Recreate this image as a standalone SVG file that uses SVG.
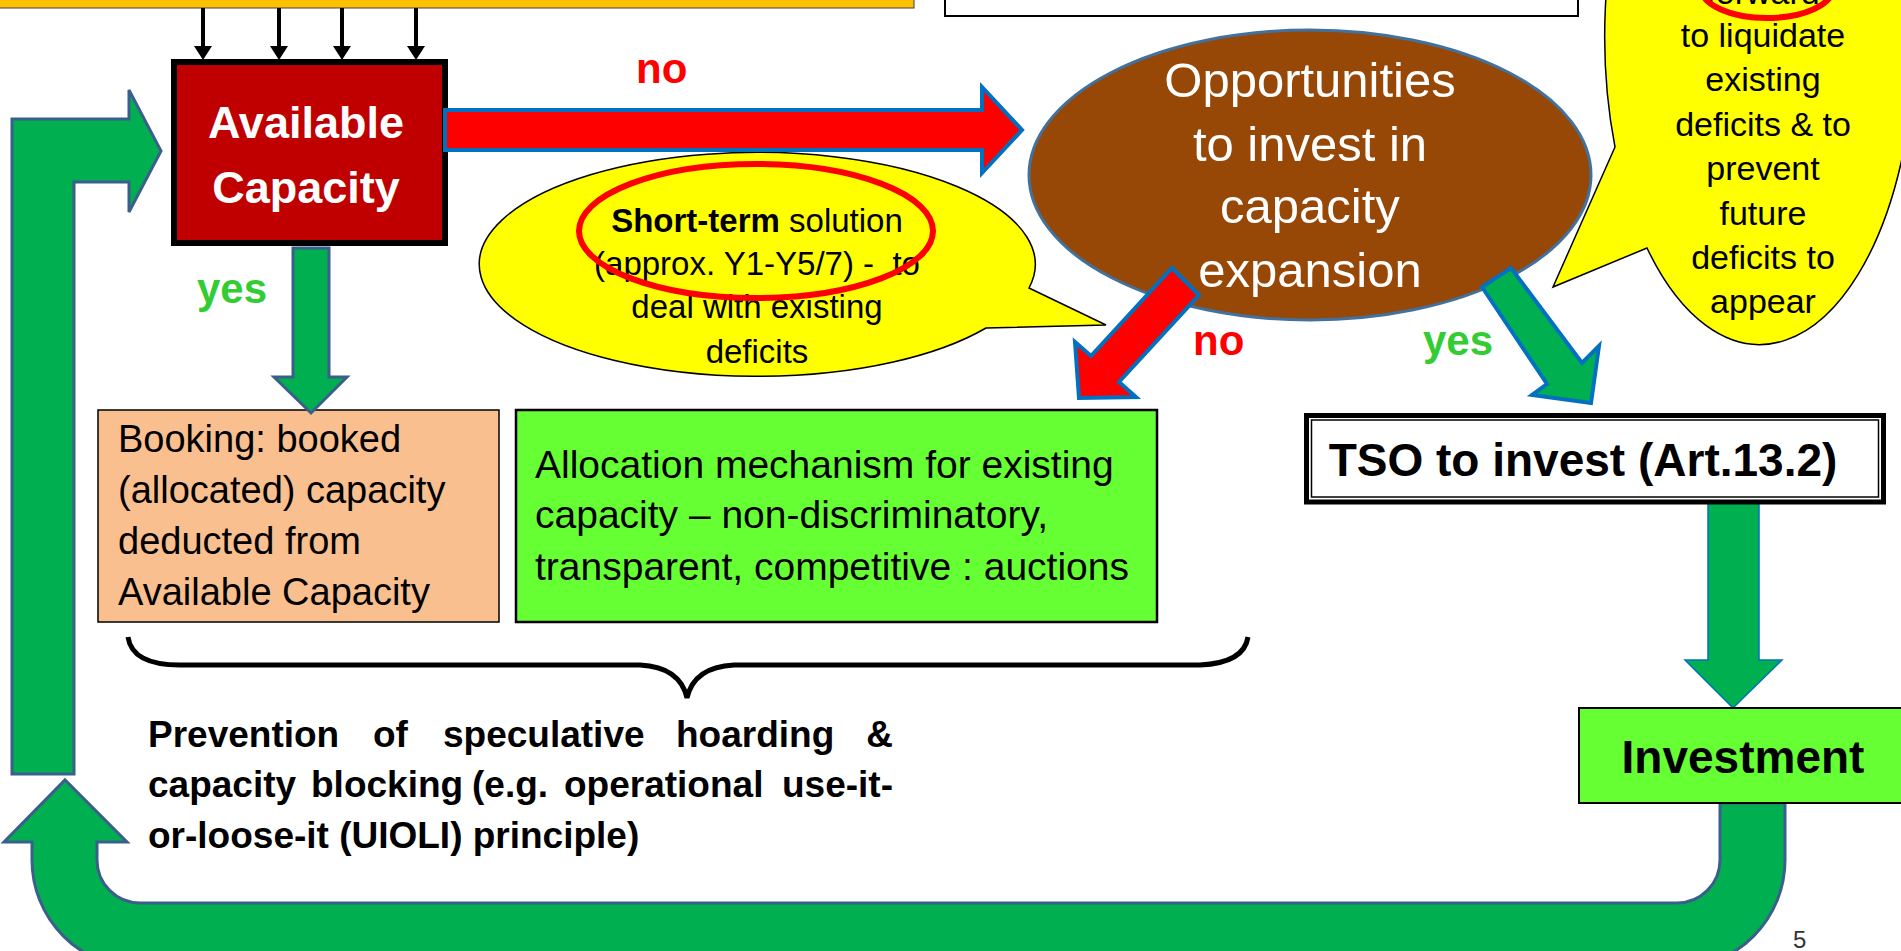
<svg xmlns="http://www.w3.org/2000/svg" width="1901" height="951" viewBox="0 0 1901 951">
  <style>
    text { font-family: "Liberation Sans", Arial, sans-serif; }
    .b { font-weight: bold; }
    .no { font-weight: bold; font-size: 42px; fill: #FF0000; }
    .yes { font-weight: bold; font-size: 42px; fill: #33CC33; }
    .bubble { fill: #FFFF00; stroke: #000; stroke-width: 1.5; }
    .ring { fill: none; stroke: #FF0000; stroke-width: 6; }
    .loop { fill: #00B050; stroke: #3A5F8B; stroke-width: 3; stroke-linejoin: miter; }
    .redarrow { fill: #FF0000; stroke: #0070C0; stroke-width: 4; }
    .greenarrow { fill: #00B050; stroke: #0070C0; stroke-width: 4; }
    .feed { stroke: #000; stroke-width: 4; marker-end: url(#head); }
  </style>
  <defs>
    <marker id="head" viewBox="0 0 14 18" refX="4" refY="9" markerWidth="14" markerHeight="18" markerUnits="userSpaceOnUse" orient="auto">
      <path d="M0,0 L14,9 L0,18 Z" fill="#000"/>
    </marker>
  </defs>

  <rect width="1901" height="951" fill="#FFFFFF"/>

  <!-- top input bar -->
  <g id="input-bar">
    <rect x="-5" y="-10" width="919" height="18" fill="#FFC000" stroke="#404040" stroke-width="1"/>
  </g>

  <!-- top white frame -->
  <g id="top-frame">
    <rect x="945" y="-10" width="633" height="26" fill="#FFFFFF" stroke="#000" stroke-width="2"/>
  </g>

  <!-- short-term speech bubble -->
  <g id="short-term-note">
    <path class="bubble" d="M1029,288 L1106,325 L986,328 A278,112 0 1 1 1029,288 Z"/>
    <g font-size="33" text-anchor="middle" fill="#000">
      <text x="757" y="232"><tspan class="b">Short-term</tspan> solution</text>
      <text x="757" y="275" xml:space="preserve">(approx. Y1-Y5/7) -  to</text>
      <text x="757" y="318">deal with existing</text>
      <text x="757" y="363">deficits</text>
    </g>
    <ellipse class="ring" cx="756" cy="231" rx="177" ry="67"/>
  </g>

  <!-- decision oval -->
  <g id="opportunities">
    <ellipse cx="1310" cy="175" rx="281" ry="145" fill="#974706" stroke="#41719C" stroke-width="3"/>
    <g font-size="49" text-anchor="middle" fill="#FFFFFF">
      <text x="1310" y="97">Opportunities</text>
      <text x="1310" y="161">to invest in</text>
      <text x="1310" y="223">capacity</text>
      <text x="1310" y="287">expansion</text>
    </g>
  </g>

  <!-- long-term speech bubble -->
  <g id="long-term-note">
    <path class="bubble" d="M1615,147 L1553,287 L1647,248 A155,308 0 1 0 1615,147 Z"/>
    <g font-size="34" text-anchor="middle" fill="#000">
      <text x="1763" y="3.5">forward</text>
      <text x="1763" y="47">to liquidate</text>
      <text x="1763" y="91">existing</text>
      <text x="1763" y="136">deficits &amp; to</text>
      <text x="1763" y="180">prevent</text>
      <text x="1763" y="225">future</text>
      <text x="1763" y="269">deficits to</text>
      <text x="1763" y="313">appear</text>
    </g>
    <ellipse class="ring" cx="1767" cy="-12" rx="66" ry="30"/>
  </g>

  <!-- available capacity -->
  <g id="available-capacity">
    <rect x="174" y="62" width="271" height="181" fill="#C00000" stroke="#000" stroke-width="6"/>
    <g class="b" font-size="45" text-anchor="middle" fill="#FFFFFF">
      <text x="306" y="138">Available</text>
      <text x="306" y="203">Capacity</text>
    </g>
  </g>

  <!-- booking -->
  <g id="booking">
    <rect x="98" y="410" width="401" height="212" fill="#F9BF8F" stroke="#000" stroke-width="1.5"/>
    <g font-size="38" fill="#000">
      <text x="118" y="452">Booking: booked</text>
      <text x="118" y="503">(allocated) capacity</text>
      <text x="118" y="554">deducted from</text>
      <text x="118" y="605">Available Capacity</text>
    </g>
  </g>

  <!-- allocation mechanism -->
  <g id="allocation">
    <rect x="516" y="410" width="641" height="212" fill="#66FF33" stroke="#000" stroke-width="2.5"/>
    <g font-size="39" fill="#000">
      <text x="535" y="478">Allocation mechanism for existing</text>
      <text x="535" y="528">capacity – non-discriminatory,</text>
      <text x="535" y="580">transparent, competitive : auctions</text>
    </g>
  </g>

  <!-- flows -->
  <g id="connectors">
    <line class="feed" x1="203" y1="8" x2="203" y2="50"/>
    <line class="feed" x1="279" y1="8" x2="279" y2="50"/>
    <line class="feed" x1="342" y1="8" x2="342" y2="50"/>
    <line class="feed" x1="416" y1="8" x2="416" y2="50"/>

    <!-- no: to the investment question -->
    <polygon class="redarrow" points="445,110 982,110 982,87 1022,130 982,173 982,150 445,150"/>
    <text class="no" x="636" y="83">no</text>

    <!-- yes: booking -->
    <polygon class="loop" points="293,248 329,248 329,377 347,377 311,413 274,377 293,377"/>
    <text class="yes" x="197" y="303">yes</text>

    <!-- no: allocation of existing capacity -->
    <polygon class="redarrow" points="1172,268 1199,295 1119,382 1136,397 1079,398 1075,342 1091,356"/>
    <text class="no" x="1193" y="355">no</text>

    <!-- yes: TSO invests -->
    <polygon class="greenarrow" points="1482,287 1547,384 1532,395 1591,403 1599,346 1582,363 1511,268"/>
    <text class="yes" x="1423" y="355">yes</text>

    <!-- TSO to investment -->
    <polygon points="1708,500 1759,500 1759,660 1782,660 1733,708 1685,660 1708,660" fill="#00B050" stroke="#0070C0" stroke-width="1.5"/>

    <!-- return loop from investment back to available capacity -->
    <path class="loop" d="M1720,803 L1720,860 A43,43 0 0 1 1677,903 L140,903 A43,43 0 0 1 97,860 L97,842 L127,842 L65,780 L4,842 L32,842 L32,860 A108,108 0 0 0 140,968 L1677,968 A108,108 0 0 0 1785,860 L1785,803 Z"/>
    <polygon class="loop" points="12,774 12,119 129,119 129,90 161,151 129,212 129,182 74,182 74,774"/>
  </g>

  <!-- TSO decision -->
  <g id="tso-invest">
    <rect x="1306.5" y="415.5" width="577" height="86.5" fill="#FFFFFF" stroke="#000" stroke-width="5"/>
    <rect x="1311.5" y="420" width="567" height="77" fill="none" stroke="#000" stroke-width="1.5"/>
    <text class="b" x="1583" y="476" font-size="46" text-anchor="middle" fill="#000">TSO to invest (Art.13.2)</text>
  </g>

  <!-- investment -->
  <g id="investment">
    <rect x="1579" y="708" width="325" height="95" fill="#66FF33" stroke="#000" stroke-width="2"/>
    <text class="b" x="1743" y="773" font-size="46" text-anchor="middle" fill="#000">Investment</text>
  </g>

  <!-- brace grouping booking and allocation -->
  <g id="prevention">
    <path d="M128,637 Q132,665 180,665 L640,665 Q680,667 687,698 Q694,667 734,665 L1200,665 Q1244,663 1248,637" fill="none" stroke="#000" stroke-width="5"/>
    <g class="b" font-size="37" fill="#000">
      <text x="148" y="747">Prevention</text>
      <text x="373" y="747">of</text>
      <text x="443" y="747">speculative</text>
      <text x="676" y="747">hoarding</text>
      <text x="893" y="747" text-anchor="end">&amp;</text>
      <text x="148" y="797">capacity</text>
      <text x="311" y="797">blocking</text>
      <text x="472" y="797">(e.g.</text>
      <text x="564" y="797">operational</text>
      <text x="893" y="797" text-anchor="end">use-it-</text>
      <text x="148" y="848">or-loose-it (UIOLI) principle)</text>
    </g>
  </g>

  <g id="page-number">
    <text x="1793" y="948" font-size="24" fill="#333">5</text>
  </g>
</svg>
